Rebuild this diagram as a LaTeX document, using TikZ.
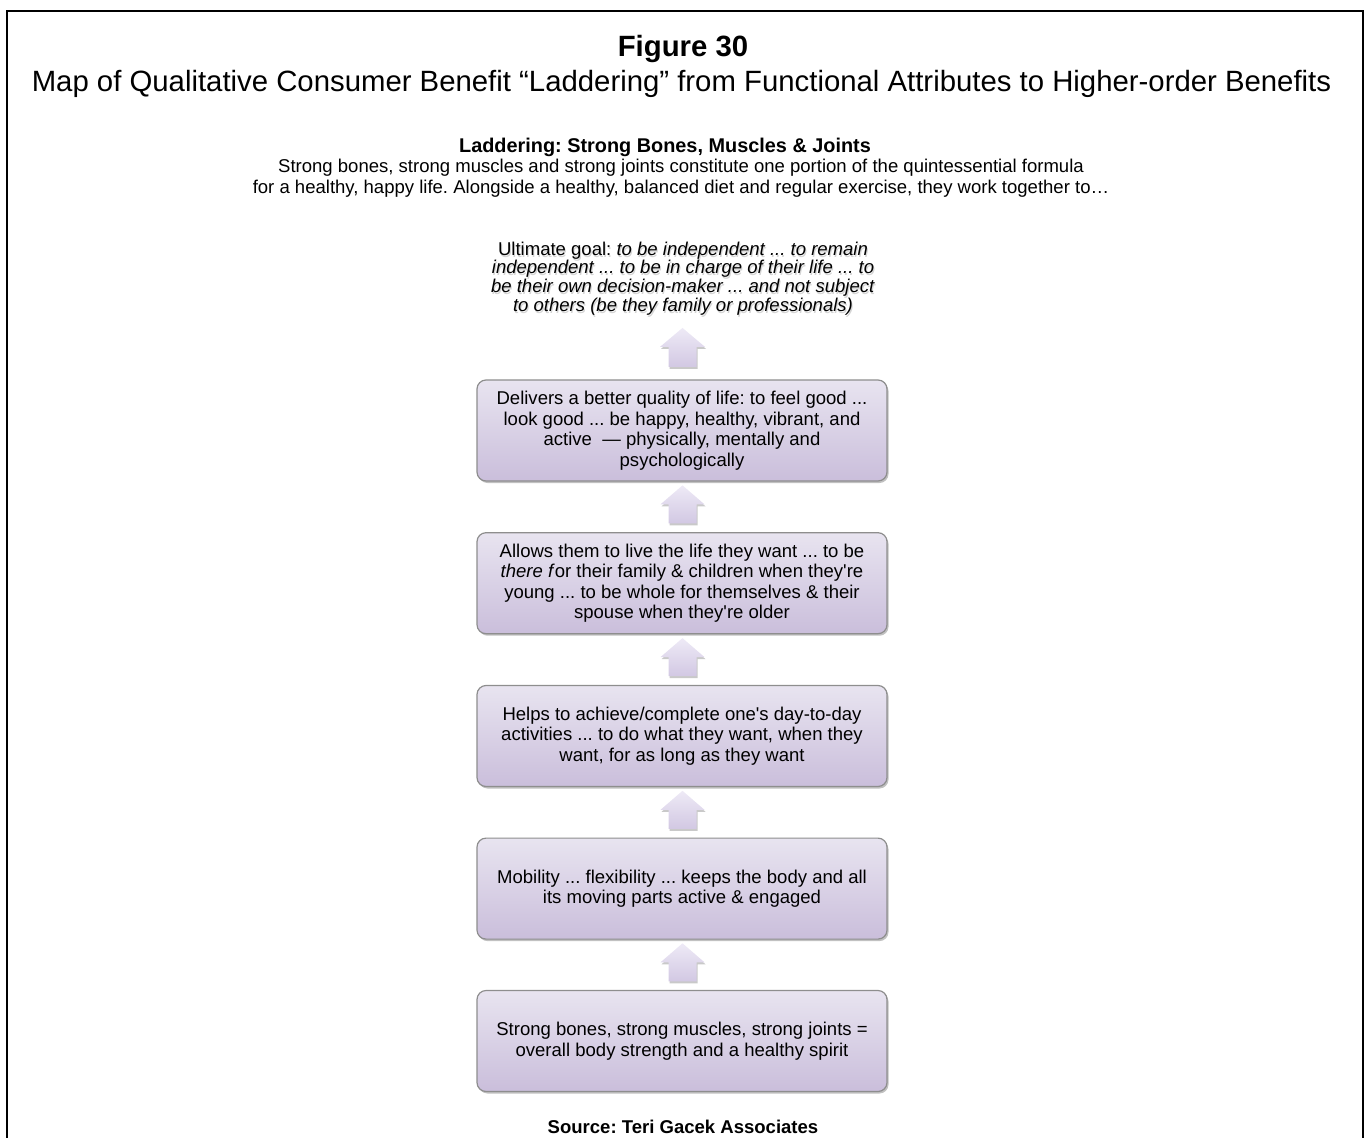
\documentclass[tikz,border=0pt]{standalone}
\usepackage{fontspec}
\newfontfamily\arial{Liberation Sans}
\usetikzlibrary{calc,shadows}
\newdimen\pxu \pxu=0.75pt
\definecolor{boxtop}{HTML}{E8E4F0}
\definecolor{boxbot}{HTML}{CABEDB}
\definecolor{boxline}{HTML}{8E8E8E}
\definecolor{arrtop}{HTML}{EEEAF6}
\definecolor{arrbot}{HTML}{D2C8E3}
\tikzset{
  frameline/.style={line width=2\pxu, draw=black},
  figtitle/.style={font=\arial\bfseries\fontsize{22}{26}\selectfont, inner sep=0},
  subtitle/.style={font=\arial\fontsize{22}{26}\selectfont, inner sep=0},
  ladhead/.style={font=\arial\bfseries\fontsize{14.9}{18}\selectfont, inner sep=0},
  intro/.style={font=\arial\fontsize{13.9}{15.4}\selectfont, align=center, inner sep=0},
  goaltext/.style={font=\arial\fontsize{13.9}{14}\selectfont, align=center, inner sep=0},
  goalshade/.style={goaltext, text=black!55, opacity=0.3},
  ladbox/.style={draw=boxline, line width=1.2\pxu, rounded corners=9\pxu,
    top color=boxtop, bottom color=boxbot,
    minimum width=410\pxu, minimum height=101\pxu, inner sep=0, align=center,
    font=\arial\fontsize{13.9}{15.4}\selectfont,
    drop shadow={shadow xshift=1.5\pxu, shadow yshift=-2\pxu, opacity=0.35, fill=black!70}},
  arrowfill/.style={top color=arrtop, bottom color=arrbot, draw=none,
    drop shadow={shadow xshift=1\pxu, shadow yshift=-2\pxu, opacity=0.3, fill=black!70}},
  srctext/.style={font=\arial\bfseries\fontsize{13.9}{16}\selectfont, inner sep=0},
  pics/blockarrow/.style n args={4}{code={
    \shade[arrowfill] (0,-#1/2) -- (#2/2,-#1/2+#4) -- (#3/2,-#1/2+#4) -- (#3/2,#1/2)
      -- (-#3/2,#1/2) -- (-#3/2,-#1/2+#4) -- (-#2/2,-#1/2+#4) -- cycle;
  }},
}
\frenchspacing
\begin{document}
\frenchspacing
\begin{tikzpicture}[x=0.75pt, y=-0.75pt]
\useasboundingbox (0,0) rectangle (1367,1138);
% frame
\draw[frameline] (7,1140) -- (7,11) -- (1363,11) -- (1363,1140);
% titles
\node[figtitle, anchor=base] (fig) at (683,57) {Figure 30};
\node[subtitle, anchor=base] (sub) at (681.5,92) {Map of Qualitative Consumer Benefit “Laddering” from Functional Attributes to Higher-order Benefits};
\node[ladhead, anchor=base] (lad) at (665,152) {Laddering: Strong Bones, Muscles \& Joints};
\node[intro] (intro) at (681,178) {Strong bones, strong muscles and strong joints constitute one portion of the quintessential formula\\for a healthy, happy life. Alongside a healthy, balanced diet and regular exercise, they work together to…};
% ultimate goal
\node[goalshade] (goalsh) at (684,280.5) {Ultimate goal: \textit{to be independent ... to remain}\\\textit{independent ... to be in charge of their life ... to}\\\textit{be their own decision-maker ... and not subject}\\\textit{to others (be they family or professionals)}};
\node[goaltext] (goal) at (683,278.5) {Ultimate goal: \textit{to be independent ... to remain}\\\textit{independent ... to be in charge of their life ... to}\\\textit{be their own decision-maker ... and not subject}\\\textit{to others (be they family or professionals)}};
% boxes
\node[ladbox] (b1) at (682,430.5) {Delivers a better quality of life: to feel good ...\\look good ... be happy, healthy, vibrant, and\\active~ — physically, mentally and\\psychologically};
\node[ladbox] (b2) at (682,583.2) {Allows them to live the life they want ... to be\\\textit{there f}or their family \& children when they're\\young ... to be whole for themselves \& their\\spouse when they're older};
\node[ladbox] (b3) at (682,736) {Helps to achieve/complete one's day-to-day\\activities ... to do what they want, when they\\want, for as long as they want};
\node[ladbox] (b4) at (682,888.6) {Mobility ... flexibility ... keeps the body and all\\its moving parts active \& engaged};
\node[ladbox] (b5) at (682,1041) {Strong bones, strong muscles, strong joints =\\overall body strength and a healthy spirit};
% arrows
\pic (a1) at ($(goal.south)!0.5!(b1.north)$) {blockarrow={39}{45}{28}{19}};
\pic (a2) at ($(b1.south)!0.5!(b2.north)+(0.5,-2.5)$) {blockarrow={38}{44}{28}{19}};
\pic (a3) at ($(b2.south)!0.5!(b3.north)+(0.5,-2.5)$) {blockarrow={38}{44}{28}{19}};
\pic (a4) at ($(b3.south)!0.5!(b4.north)+(0.5,-2.5)$) {blockarrow={38}{44}{28}{19}};
\pic (a5) at ($(b4.south)!0.5!(b5.north)+(0.5,-2.5)$) {blockarrow={38}{44}{28}{19}};
% source
\node[srctext, anchor=base] (src) at (683,1133) {Source: Teri Gacek Associates};
\end{tikzpicture}
\end{document}
